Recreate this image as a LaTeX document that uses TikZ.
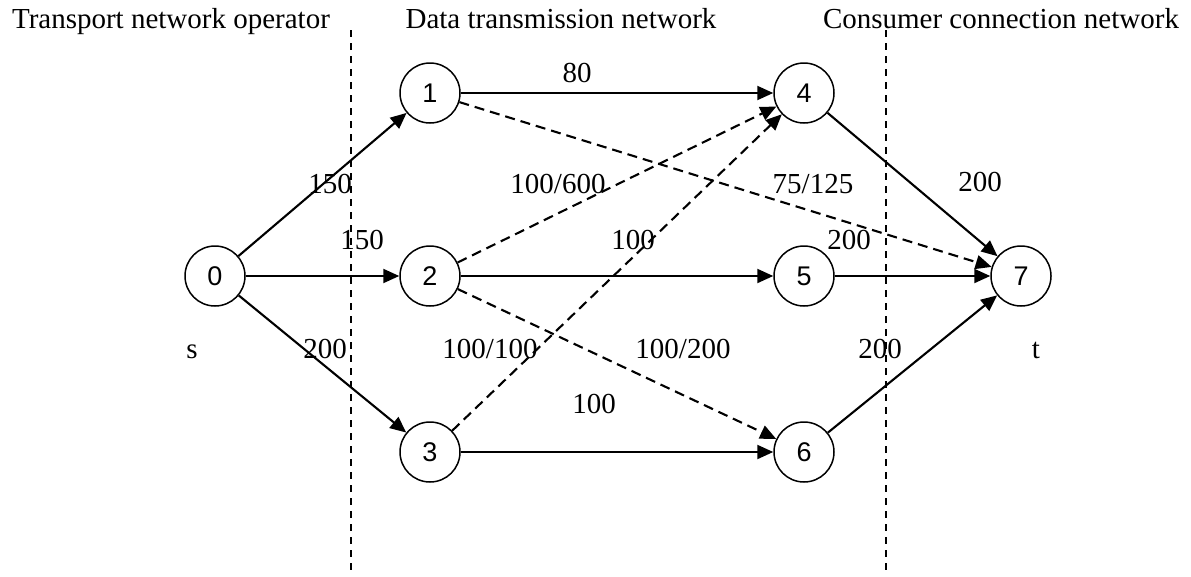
\documentclass[tikz,border=0pt]{standalone}
\usepackage{fontspec}
\setmainfont{Liberation Serif}
\newfontfamily\nodefont{Liberation Sans}
\usetikzlibrary{arrows.meta}
\begin{document}
\begin{tikzpicture}[x=1pt,y=-1pt,
  vtx/.style={circle,draw,line width=1.5pt,minimum size=60pt,inner sep=0pt,font=\nodefont\fontsize{27}{27}\selectfont},
  edge/.style={line width=2.1pt,-{Triangle[length=16pt,width=14pt]}},
  dedge/.style={edge,dash pattern=on 10pt off 6pt},
  sep/.style={line width=1.3pt,dash pattern=on 7pt off 6pt},
  lbl/.style={anchor=base,inner sep=0pt,font=\fontsize{29}{29}\selectfont}]
\useasboundingbox (0,0) rectangle (1191,576);
% separators
\coordinate (s1t) at (351,30);
\coordinate (s1b) at (351,576);
\coordinate (s2t) at (886,30);
\coordinate (s2b) at (886,576);
\draw[sep] (s1t) -- (s1b);
\draw[sep] (s2t) -- (s2b);
% titles
\node[lbl] (tA) at (171,28) {Transport network operator};
\node[lbl] (tB) at (561,28) {Data transmission network};
\node[lbl] (tC) at (1001,28) {Consumer connection network};
% vertices
\node[vtx] (n0) at (215,276) {0};
\node[vtx] (n1) at (430,93) {1};
\node[vtx] (n2) at (430,276) {2};
\node[vtx] (n3) at (430,452) {3};
\node[vtx] (n4) at (804,93) {4};
\node[vtx] (n5) at (804,276) {5};
\node[vtx] (n6) at (804,452) {6};
\node[vtx] (n7) at (1021,276) {7};
% edges
\draw[edge] (n0) -- (n1);
\draw[edge] (n0) -- (n2);
\draw[edge] (n0) -- (n3);
\draw[edge] (n1) -- (n4);
\draw[dedge] (n1) -- (n7);
\draw[dedge] (n2) -- (n4);
\draw[edge] (n2) -- (n5);
\draw[dedge] (n2) -- (n6);
\draw[dedge] (n3) -- (n4);
\draw[edge] (n3) -- (n6);
\draw[edge] (n4) -- (n7);
\draw[edge] (n5) -- (n7);
\draw[edge] (n6) -- (n7);
% labels
\node[lbl] (l80) at (577,82) {80};
\node[lbl] (l01) at (330,193) {150};
\node[lbl] (l02) at (362,249) {150};
\node[lbl] (l03) at (325,358) {200};
\node[lbl] (ls) at (192,358) {s};
\node[lbl] (l24) at (558,193) {100/600};
\node[lbl] (l17) at (813,193) {75/125};
\node[lbl] (l47) at (980,191) {200};
\node[lbl] (l25) at (633,249) {100};
\node[lbl] (l57) at (849,249) {200};
\node[lbl] (l34) at (490,358) {100/100};
\node[lbl] (l26) at (683,358) {100/200};
\node[lbl] (l67) at (880,358) {200};
\node[lbl] (lt) at (1036,358) {t};
\node[lbl] (l36) at (594,413) {100};
\end{tikzpicture}
\end{document}
